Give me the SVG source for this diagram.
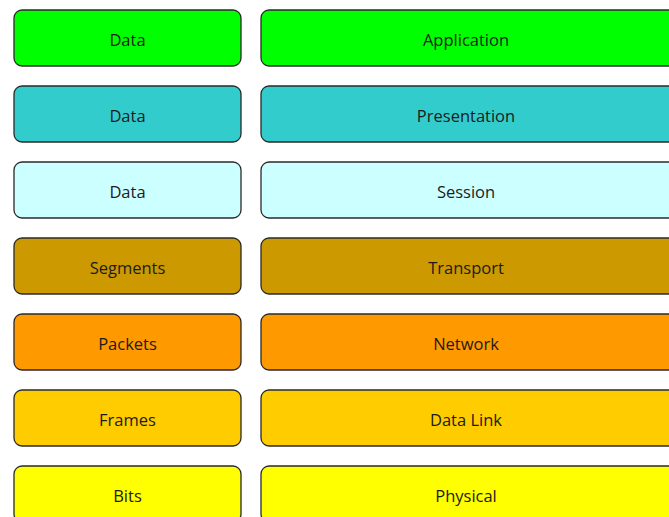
<svg xmlns="http://www.w3.org/2000/svg" width="669" height="517" viewBox="0 0 669 517">
  <style>
    .box { stroke: #2a2a2a; stroke-width: 1.3; }
    .lbl { font-family: "Open Sans", "Liberation Sans", sans-serif; font-size: 16.5px; fill: #1c1c1c; text-anchor: middle; dominant-baseline: central; }
    .l1 { fill: #00ff00; }
    .l2 { fill: #33cccc; }
    .l3 { fill: #ccffff; }
    .l4 { fill: #cc9900; }
    .l5 { fill: #ff9900; }
    .l6 { fill: #ffcc00; }
    .l7 { fill: #ffff00; }
  </style>
  <rect width="669" height="517" fill="#ffffff"/>

  <!-- Layer 7 -->
  <g id="pdu-application">
    <rect class="box l1" x="14" y="10" width="227" height="56" rx="8"/>
    <text class="lbl" x="127.5" y="39">Data</text>
  </g>
  <g id="layer-application">
    <rect class="box l1" x="261" y="10" width="420" height="56" rx="8"/>
    <text class="lbl" x="466" y="39">Application</text>
  </g>

  <!-- Layer 6 -->
  <g id="pdu-presentation">
    <rect class="box l2" x="14" y="86" width="227" height="56" rx="8"/>
    <text class="lbl" x="127.5" y="115">Data</text>
  </g>
  <g id="layer-presentation">
    <rect class="box l2" x="261" y="86" width="420" height="56" rx="8"/>
    <text class="lbl" x="466" y="115">Presentation</text>
  </g>

  <!-- Layer 5 -->
  <g id="pdu-session">
    <rect class="box l3" x="14" y="162" width="227" height="56" rx="8"/>
    <text class="lbl" x="127.5" y="191">Data</text>
  </g>
  <g id="layer-session">
    <rect class="box l3" x="261" y="162" width="420" height="56" rx="8"/>
    <text class="lbl" x="466" y="191">Session</text>
  </g>

  <!-- Layer 4 -->
  <g id="pdu-transport">
    <rect class="box l4" x="14" y="238" width="227" height="56" rx="8"/>
    <text class="lbl" x="127.5" y="267">Segments</text>
  </g>
  <g id="layer-transport">
    <rect class="box l4" x="261" y="238" width="420" height="56" rx="8"/>
    <text class="lbl" x="466" y="267">Transport</text>
  </g>

  <!-- Layer 3 -->
  <g id="pdu-network">
    <rect class="box l5" x="14" y="314" width="227" height="56" rx="8"/>
    <text class="lbl" x="127.5" y="343">Packets</text>
  </g>
  <g id="layer-network">
    <rect class="box l5" x="261" y="314" width="420" height="56" rx="8"/>
    <text class="lbl" x="466" y="343">Network</text>
  </g>

  <!-- Layer 2 -->
  <g id="pdu-datalink">
    <rect class="box l6" x="14" y="390" width="227" height="56" rx="8"/>
    <text class="lbl" x="127.5" y="419">Frames</text>
  </g>
  <g id="layer-datalink">
    <rect class="box l6" x="261" y="390" width="420" height="56" rx="8"/>
    <text class="lbl" x="466" y="419">Data Link</text>
  </g>

  <!-- Layer 1 -->
  <g id="pdu-physical">
    <rect class="box l7" x="14" y="466" width="227" height="56" rx="8"/>
    <text class="lbl" x="127.5" y="495">Bits</text>
  </g>
  <g id="layer-physical">
    <rect class="box l7" x="261" y="466" width="420" height="56" rx="8"/>
    <text class="lbl" x="466" y="495">Physical</text>
  </g>
</svg>
